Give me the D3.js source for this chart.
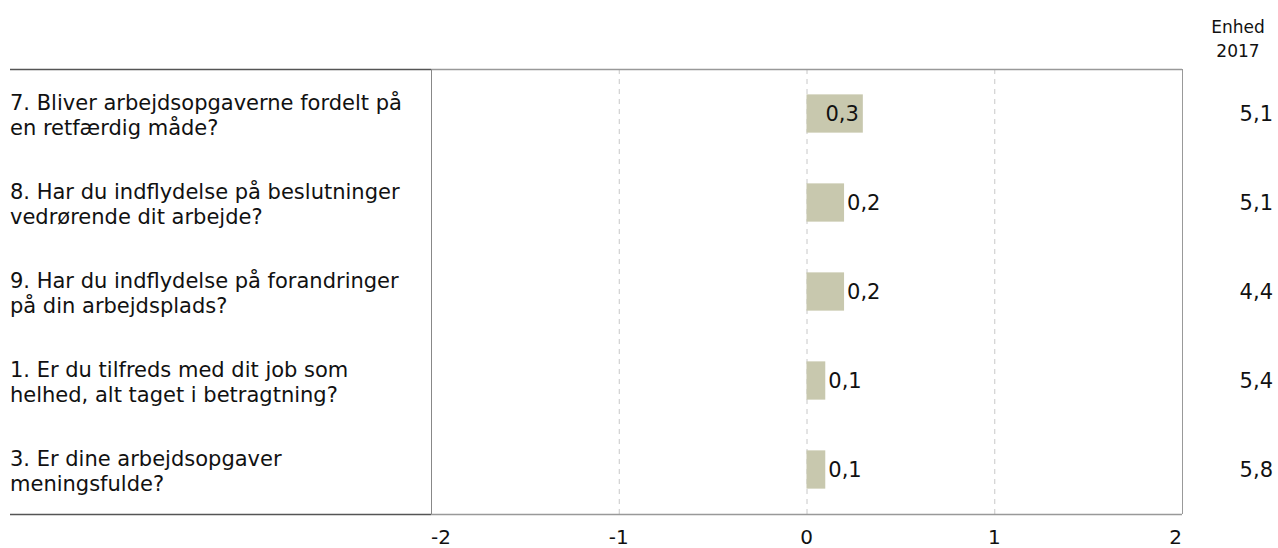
<!DOCTYPE html>
<html>
<head>
<meta charset="utf-8">
<script src="https://cdn.jsdelivr.net/npm/d3@7"></script>
<style>
  body { margin: 0; background: #fff; }
  text { font-family: Verdana, "DejaVu Sans", sans-serif; fill: #111; }
</style>
</head>
<body>
<svg id="chart" width="1278" height="548"></svg>
<script>
// questions, top to bottom
const questions = [
  ['7. Bliver arbejdsopgaverne fordelt på', 'en retfærdig måde?'],
  ['8. Har du indflydelse på beslutninger', 'vedrørende dit arbejde?'],
  ['9. Har du indflydelse på forandringer', 'på din arbejdsplads?'],
  ['1. Er du tilfreds med dit job som', 'helhed, alt taget i betragtning?'],
  ['3. Er dine arbejdsopgaver', 'meningsfulde?']
];
const diffs = [0.3, 0.2, 0.2, 0.1, 0.1];
const unit2017 = ['5,1', '5,1', '4,4', '5,4', '5,8'];
const xTicks = [-2, -1, 0, 1, 2];

const fmt = (v) => String(v).replace('.', ',');

const svg = d3.select('#chart');
const plotTop = 69, plotBottom = 514, plotLeft = 431, plotRight = 1182;
const fs = 21;

const x = d3.scaleLinear().domain([-2, 2]).range([plotLeft, plotRight]);
const y = d3.scaleBand().domain(d3.range(questions.length)).range([plotTop, plotBottom]).paddingInner(0.57).paddingOuter(0.285);
const mid = (i) => y(i) + y.bandwidth() / 2;

// dashed grid
svg.append('g')
  .selectAll('line')
  .data(xTicks.filter((d) => d > -2 && d < 2))
  .join('line')
  .attr('x1', (d) => x(d) + 0.5)
  .attr('x2', (d) => x(d) + 0.5)
  .attr('y1', plotTop)
  .attr('y2', plotBottom)
  .attr('stroke', '#c8c8c8')
  .attr('stroke-dasharray', '5,5');

// bars
svg.append('g')
  .selectAll('rect')
  .data(diffs)
  .join('rect')
  .attr('x', (d) => x(Math.min(0, d)))
  .attr('y', (d, i) => y(i))
  .attr('width', (d) => Math.abs(x(d) - x(0)))
  .attr('height', y.bandwidth())
  .attr('fill', '#c8c8ae');

// value labels: inside the bar when wide enough, else after it
svg.append('g')
  .selectAll('text')
  .data(diffs)
  .join('text')
  .attr('x', (d) => (d >= 0.3 ? x(d) - 4 : x(d) + 3))
  .attr('y', (d, i) => mid(i))
  .attr('dy', '0.36em')
  .attr('text-anchor', (d) => (d >= 0.3 ? 'end' : 'start'))
  .attr('font-size', fs)
  .text((d) => fmt(d));

// frame: darker under the labels, lighter around the plot
const frame = svg.append('g');
frame.append('line').attr('x1', 10).attr('x2', plotLeft).attr('y1', plotTop + 0.5).attr('y2', plotTop + 0.5)
  .attr('stroke', '#555').attr('stroke-width', 1.5);
frame.append('line').attr('x1', plotLeft).attr('x2', plotRight).attr('y1', plotTop + 0.5).attr('y2', plotTop + 0.5)
  .attr('stroke', '#999').attr('stroke-width', 1.5);
frame.append('line').attr('x1', 10).attr('x2', plotLeft).attr('y1', plotBottom + 0.5).attr('y2', plotBottom + 0.5)
  .attr('stroke', '#555').attr('stroke-width', 1.5);
frame.append('line').attr('x1', plotLeft).attr('x2', plotRight).attr('y1', plotBottom + 0.5).attr('y2', plotBottom + 0.5)
  .attr('stroke', '#999').attr('stroke-width', 1.5);
frame.append('line').attr('x1', plotLeft + 0.5).attr('x2', plotLeft + 0.5).attr('y1', plotTop).attr('y2', plotBottom)
  .attr('stroke', '#888');
frame.append('line').attr('x1', plotRight + 0.5).attr('x2', plotRight + 0.5).attr('y1', plotTop).attr('y2', plotBottom)
  .attr('stroke', '#999');

// question labels
const qg = svg.append('g')
  .selectAll('text')
  .data(questions)
  .join('text')
  .attr('x', 10)
  .attr('y', (d, i) => mid(i))
  .attr('font-size', fs);
qg.selectAll('tspan')
  .data((d) => d)
  .join('tspan')
  .attr('x', 10)
  .attr('dy', (d, j) => (j === 0 ? '-0.16em' : '1.19em'))
  .text((d) => d);

// x axis labels (edge labels kept inside the plot)
svg.append('g')
  .selectAll('text')
  .data(xTicks)
  .join('text')
  .attr('x', (d) => x(d))
  .attr('y', 544)
  .attr('text-anchor', (d) => (d === -2 ? 'start' : d === 2 ? 'end' : 'middle'))
  .attr('font-size', 20)
  .text((d) => d);

// right column
svg.append('text').attr('x', 1238).attr('y', 27).attr('dy', '0.36em')
  .attr('text-anchor', 'middle').attr('font-size', 17).text('Enhed');
svg.append('text').attr('x', 1238).attr('y', 51).attr('dy', '0.36em')
  .attr('text-anchor', 'middle').attr('font-size', 17).text('2017');
svg.append('g')
  .selectAll('text')
  .data(unit2017)
  .join('text')
  .attr('x', 1273)
  .attr('y', (d, i) => mid(i))
  .attr('dy', '0.36em')
  .attr('text-anchor', 'end')
  .attr('font-size', fs)
  .text((d) => d);
</script>
</body>
</html>
